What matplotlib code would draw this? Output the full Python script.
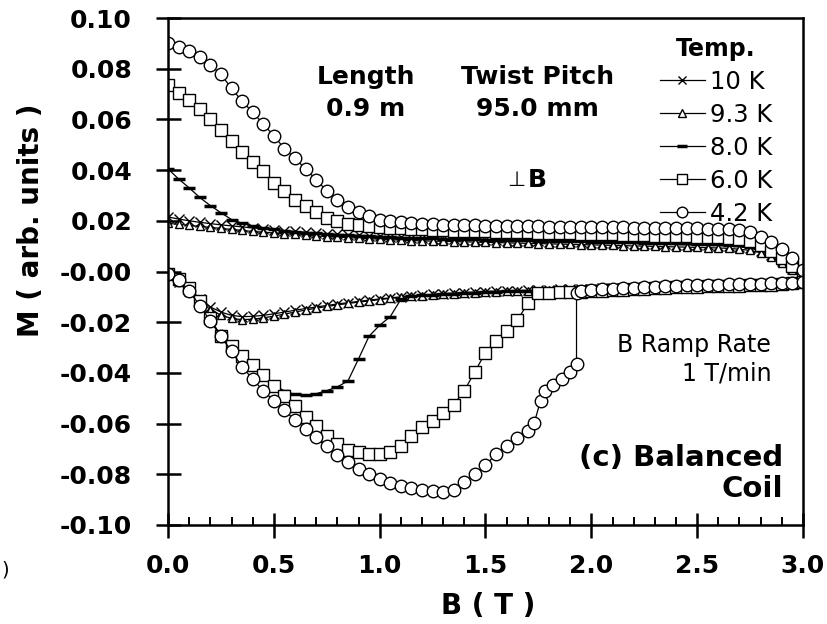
import matplotlib
matplotlib.use("Agg")
import matplotlib.pyplot as plt
from matplotlib.ticker import MultipleLocator, FormatStrFormatter

plt.rcParams['font.family'] = ['DejaVu Sans']
plt.rcParams['axes.unicode_minus'] = False

# field grid (T), shared by most branches
b = [0.00, 0.05, 0.10, 0.15, 0.20, 0.25, 0.30, 0.35, 0.40, 0.45,
     0.50, 0.55, 0.60, 0.65, 0.70, 0.75, 0.80, 0.85, 0.90, 0.95,
     1.00, 1.05, 1.10, 1.15, 1.20, 1.25, 1.30, 1.35, 1.40, 1.45,
     1.50, 1.55, 1.60, 1.65, 1.70, 1.75, 1.80, 1.85, 1.90, 1.95,
     2.00, 2.05, 2.10, 2.15, 2.20, 2.25, 2.30, 2.35, 2.40, 2.45,
     2.50, 2.55, 2.60, 2.65, 2.70, 2.75, 2.80, 2.85, 2.90, 2.95,
     3.00]

# upper branches (field ramping down)
m10_up = [0.0215, 0.0207, 0.0200, 0.0194, 0.0189, 0.0184, 0.0180, 0.0176, 0.0172, 0.0168,
          0.0165, 0.0161, 0.0158, 0.0155, 0.0152, 0.0149, 0.0147, 0.0145, 0.0143, 0.0141,
          0.0139, 0.0137, 0.0135, 0.0133, 0.0131, 0.0129, 0.0128, 0.0127, 0.0126, 0.0125,
          0.0124, 0.0123, 0.0122, 0.0121, 0.0120, 0.0119, 0.0118, 0.0117, 0.0116, 0.0115,
          0.0114, 0.0113, 0.0112, 0.0111, 0.0110, 0.0109, 0.0108, 0.0107, 0.0106, 0.0105,
          0.0104, 0.0103, 0.0102, 0.0100, 0.0097, 0.0092, 0.0082, 0.0065, 0.0040, 0.0010,
          -0.0025]
m93_up = [0.0190, 0.0186, 0.0182, 0.0178, 0.0174, 0.0170, 0.0166, 0.0162, 0.0158, 0.0155,
          0.0152, 0.0149, 0.0146, 0.0143, 0.0140, 0.0138, 0.0136, 0.0134, 0.0132, 0.0130,
          0.0128, 0.0126, 0.0124, 0.0122, 0.0121, 0.0120, 0.0119, 0.0118, 0.0117, 0.0116,
          0.0115, 0.0114, 0.0113, 0.0112, 0.0111, 0.0110, 0.0109, 0.0108, 0.0107, 0.0106,
          0.0105, 0.0104, 0.0103, 0.0102, 0.0101, 0.0100, 0.0099, 0.0098, 0.0097, 0.0096,
          0.0095, 0.0094, 0.0093, 0.0091, 0.0088, 0.0083, 0.0074, 0.0058, 0.0035, 0.0005,
          -0.0030]
m80_up = [0.0405, 0.0365, 0.0330, 0.0292, 0.0260, 0.0232, 0.0205, 0.0190, 0.0180, 0.0172,
          0.0166, 0.0161, 0.0157, 0.0153, 0.0150, 0.0147, 0.0145, 0.0143, 0.0141, 0.0139,
          0.0137, 0.0135, 0.0134, 0.0133, 0.0132, 0.0131, 0.0130, 0.0129, 0.0128, 0.0127,
          0.0126, 0.0125, 0.0124, 0.0124, 0.0123, 0.0122, 0.0121, 0.0120, 0.0120, 0.0119,
          0.0118, 0.0117, 0.0117, 0.0116, 0.0115, 0.0114, 0.0114, 0.0113, 0.0112, 0.0111,
          0.0110, 0.0109, 0.0108, 0.0106, 0.0103, 0.0098, 0.0088, 0.0070, 0.0045, 0.0015,
          -0.0020]
m60_up = [0.0735, 0.0705, 0.0675, 0.0640, 0.0600, 0.0560, 0.0515, 0.0470, 0.0432, 0.0395,
          0.0350, 0.0317, 0.0284, 0.0257, 0.0233, 0.0213, 0.0198, 0.0189, 0.0183, 0.0178,
          0.0175, 0.0172, 0.0170, 0.0168, 0.0166, 0.0164, 0.0162, 0.0161, 0.0160, 0.0159,
          0.0158, 0.0157, 0.0156, 0.0155, 0.0154, 0.0153, 0.0152, 0.0151, 0.0150, 0.0149,
          0.0148, 0.0147, 0.0146, 0.0145, 0.0144, 0.0143, 0.0142, 0.0141, 0.0140, 0.0139,
          0.0138, 0.0137, 0.0135, 0.0132, 0.0128, 0.0120, 0.0105, 0.0082, 0.0055, 0.0022,
          -0.0015]
m42_up = [0.0903, 0.0887, 0.0868, 0.0845, 0.0815, 0.0778, 0.0722, 0.0672, 0.0628, 0.0582,
          0.0535, 0.0485, 0.0446, 0.0405, 0.0362, 0.0318, 0.0282, 0.0254, 0.0234, 0.0218,
          0.0205, 0.0198, 0.0194, 0.0190, 0.0188, 0.0186, 0.0185, 0.0184, 0.0183, 0.0182,
          0.0181, 0.0180, 0.0180, 0.0179, 0.0178, 0.0178, 0.0177, 0.0177, 0.0176, 0.0176,
          0.0175, 0.0175, 0.0174, 0.0174, 0.0173, 0.0173, 0.0172, 0.0172, 0.0171, 0.0170,
          0.0170, 0.0169, 0.0168, 0.0166, 0.0163, 0.0155, 0.0138, 0.0115, 0.0088, 0.0055,
          0.0005]

# lower branches (field ramping up)
m10_lo = [-0.0010, -0.0040, -0.0075, -0.0110, -0.0140, -0.0160, -0.0173, -0.0178, -0.0177, -0.0173,
          -0.0167, -0.0160, -0.0153, -0.0146, -0.0140, -0.0134, -0.0128, -0.0123, -0.0118, -0.0113,
          -0.0108, -0.0104, -0.0100, -0.0096, -0.0093, -0.0090, -0.0087, -0.0085, -0.0083, -0.0081,
          -0.0079, -0.0077, -0.0076, -0.0075, -0.0074, -0.0073, -0.0072, -0.0071, -0.0070, -0.0069,
          -0.0068, -0.0067, -0.0066, -0.0065, -0.0064, -0.0063, -0.0062, -0.0061, -0.0060, -0.0059,
          -0.0058, -0.0057, -0.0056, -0.0055, -0.0054, -0.0053, -0.0052, -0.0050, -0.0048, -0.0045,
          -0.0040]
m93_lo = [-0.0010, -0.0042, -0.0080, -0.0118, -0.0150, -0.0172, -0.0185, -0.0190, -0.0188, -0.0183,
          -0.0176, -0.0168, -0.0160, -0.0152, -0.0145, -0.0138, -0.0132, -0.0126, -0.0121, -0.0116,
          -0.0111, -0.0106, -0.0102, -0.0098, -0.0095, -0.0092, -0.0089, -0.0087, -0.0085, -0.0083,
          -0.0081, -0.0079, -0.0078, -0.0077, -0.0076, -0.0075, -0.0074, -0.0073, -0.0072, -0.0071,
          -0.0070, -0.0069, -0.0068, -0.0067, -0.0066, -0.0065, -0.0064, -0.0063, -0.0062, -0.0061,
          -0.0060, -0.0059, -0.0058, -0.0057, -0.0056, -0.0055, -0.0054, -0.0052, -0.0050, -0.0047,
          -0.0042]
m80_lo = [-0.0010, -0.0040, -0.0080, -0.0130, -0.0195, -0.0255, -0.0295, -0.0325, -0.0360, -0.0405,
          -0.0445, -0.0472, -0.0485, -0.0488, -0.0482, -0.0470, -0.0455, -0.0432, -0.0345, -0.0255,
          -0.0212, -0.0178, -0.0110, -0.0098, -0.0094, -0.0091, -0.0089, -0.0087, -0.0085, -0.0083,
          -0.0081, -0.0079, -0.0078, -0.0077, -0.0076, -0.0075, -0.0074, -0.0073, -0.0072, -0.0071,
          -0.0070, -0.0069, -0.0068, -0.0067, -0.0066, -0.0065, -0.0064, -0.0063, -0.0062, -0.0061,
          -0.0060, -0.0059, -0.0058, -0.0057, -0.0056, -0.0055, -0.0054, -0.0052, -0.0050, -0.0047,
          -0.0042]
m60_lo = [-0.0010, -0.0030, -0.0065, -0.0115, -0.0185, -0.0255, -0.0295, -0.0332, -0.0368, -0.0410,
          -0.0450, -0.0490, -0.0532, -0.0572, -0.0610, -0.0648, -0.0680, -0.0703, -0.0713, -0.0718,
          -0.0718, -0.0712, -0.0690, -0.0650, -0.0615, -0.0590, -0.0560, -0.0525, -0.0470, -0.0395,
          -0.0320, -0.0275, -0.0235, -0.0193, -0.0125, -0.0083, -0.0083, -0.0082, -0.0081, -0.0080,
          -0.0078, -0.0076, -0.0074, -0.0072, -0.0070, -0.0068, -0.0066, -0.0064, -0.0062, -0.0061,
          -0.0060, -0.0059, -0.0058, -0.0057, -0.0056, -0.0055, -0.0054, -0.0052, -0.0050, -0.0047,
          -0.0042]

# 4.2 K lower branch has a flux jump, so it keeps its own field values
b42_lo = [0.00, 0.05, 0.10, 0.15, 0.20, 0.25, 0.30, 0.35, 0.40, 0.45,
          0.50, 0.55, 0.60, 0.65, 0.70, 0.75, 0.80, 0.85, 0.90, 0.95,
          1.00, 1.05, 1.10, 1.15, 1.20, 1.25, 1.30, 1.35, 1.40, 1.45,
          1.50, 1.55, 1.60, 1.65, 1.70, 1.73, 1.76, 1.78, 1.82, 1.86,
          1.90, 1.93, 1.93, 1.95, 2.00, 2.05, 2.10, 2.15, 2.20, 2.25,
          2.30, 2.35, 2.40, 2.45, 2.50, 2.55, 2.60, 2.65, 2.70, 2.75,
          2.80, 2.85, 2.90, 2.95, 3.00]
m42_lo = [-0.0010, -0.0035, -0.0075, -0.0135, -0.0195, -0.0255, -0.0315, -0.0375, -0.0425, -0.0470,
          -0.0510, -0.0548, -0.0585, -0.0620, -0.0653, -0.0688, -0.0722, -0.0752, -0.0778, -0.0800,
          -0.0820, -0.0835, -0.0847, -0.0855, -0.0862, -0.0866, -0.0868, -0.0862, -0.0832, -0.0800,
          -0.0765, -0.0720, -0.0688, -0.0658, -0.0628, -0.0598, -0.0510, -0.0470, -0.0448, -0.0425,
          -0.0395, -0.0365, -0.0085, -0.0078, -0.0073, -0.0071, -0.0069, -0.0067, -0.0065, -0.0063,
          -0.0061, -0.0059, -0.0057, -0.0055, -0.0054, -0.0053, -0.0052, -0.0051, -0.0050, -0.0049,
          -0.0048, -0.0047, -0.0046, -0.0044, -0.0042]

labels = ["10 K", "9.3 K", "8.0 K", "6.0 K", "4.2 K"]

fig = plt.figure(figsize=(8.28, 6.24), dpi=100)
ax = fig.add_axes([168 / 828, 99 / 624, 635 / 828, 507 / 624])

styles = [
    dict(marker='x', ms=7, mew=1.0, mfc='none'),
    dict(marker='^', ms=6, mew=1.0, mfc='white'),
    dict(marker='_', ms=9, mew=2.5),
    dict(marker='s', ms=8, mew=1.0, mfc='white'),
    dict(marker='o', ms=9, mew=1.0, mfc='white'),
]
ups = [m10_up, m93_up, m80_up, m60_up, m42_up]
los = [(b, m10_lo), (b, m93_lo), (b, m80_lo), (b, m60_lo), (b42_lo, m42_lo)]

for lab, st, up, lo in zip(labels, styles, ups, los):
    ax.plot(b, up, color='black', lw=0.9, mec='black', label=lab, **st)
    ax.plot(lo[0], lo[1], color='black', lw=0.9, mec='black', **st)

ax.set_xlim(0, 3.0)
ax.set_ylim(-0.10, 0.10)
ax.xaxis.set_major_locator(MultipleLocator(0.5))
ax.xaxis.set_minor_locator(MultipleLocator(0.1))
ax.yaxis.set_major_locator(MultipleLocator(0.02))
ax.xaxis.set_major_formatter(FormatStrFormatter('%.1f'))
ax.yaxis.set_major_formatter(FormatStrFormatter('%.2f'))
ax.tick_params(axis='both', which='major', direction='inout', length=18, width=1.8,
               labelsize=18)
ax.tick_params(axis='x', which='major', pad=12)
ax.tick_params(axis='y', which='major', pad=17)
ax.tick_params(axis='x', which='minor', direction='in', length=6, width=1.4)
for lbl in ax.get_xticklabels() + ax.get_yticklabels():
    lbl.set_fontweight('bold')
for sp in ax.spines.values():
    sp.set_linewidth(1.8)

fig.text(488 / 828, 1 - 606 / 624, "B ( T )", fontsize=20, fontweight='bold',
         ha='center', va='center')
fig.text(31 / 828, 1 - 220 / 624, "M ( arb. units )", fontsize=20, fontweight='bold',
         ha='center', va='center', rotation=90)
fig.text(0.002, 1 - 570 / 624, ")", fontsize=14, ha='left', va='center')

ax.text(0.935, 0.0705, "Length\n0.9 m", fontsize=18, fontweight='bold',
        ha='center', va='center', linespacing=1.4)
ax.text(1.745, 0.0705, "Twist Pitch\n95.0 mm", fontsize=18, fontweight='bold',
        ha='center', va='center', linespacing=1.4)
ax.text(1.69, 0.036, "\u22a5", fontsize=15, ha='right', va='center')
ax.text(1.70, 0.036, "B", fontsize=18, fontweight='bold', ha='left', va='center')
ax.text(2.85, -0.0345, "B Ramp Rate\n1 T/min", fontsize=17, ha='right', va='center',
        linespacing=1.25, multialignment='right')
ax.text(2.905, -0.0797, "(c) Balanced\nCoil", fontsize=21, fontweight='bold',
        ha='right', va='center', linespacing=1.1, multialignment='right')

leg = ax.legend(loc='upper left', bbox_to_anchor=(660 / 828, 1 - 37 / 624),
                bbox_transform=fig.transFigure, frameon=False, fontsize=17.5,
                handlelength=1.85, handletextpad=0.2, labelspacing=0.37,
                borderpad=0, borderaxespad=0, markerscale=0.85,
                title="Temp.", title_fontproperties={'weight': 'bold', 'size': 17})

# nudge the y tick labels so their right edge sits about 132 px from the left
fig.canvas.draw()
r = fig.canvas.get_renderer()
x1 = max(t.get_window_extent(r).x1 for t in ax.get_yticklabels() if t.get_text())
ax.tick_params(axis='y', which='major', pad=17 + (x1 - 132) * 72 / 100)

fig.savefig("out.png", dpi=100)
